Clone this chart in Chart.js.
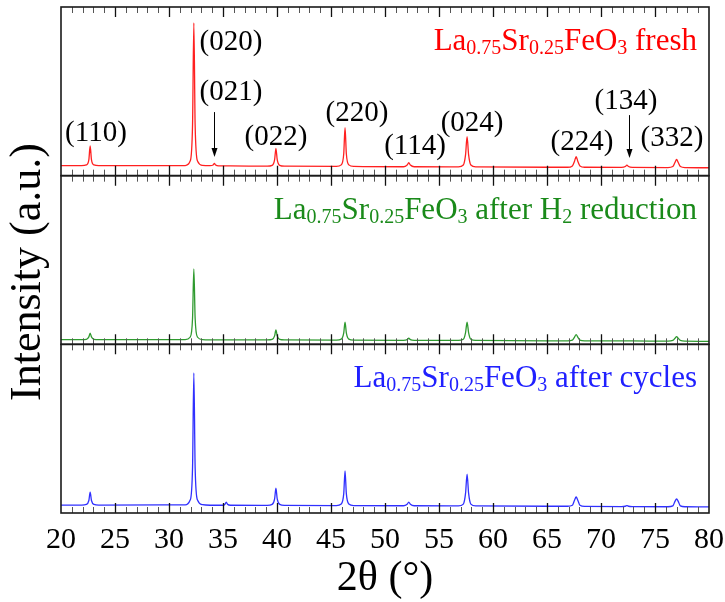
<!DOCTYPE html>
<html><head><meta charset="utf-8">
<script src="https://cdn.jsdelivr.net/npm/chart.js@4.4.1/dist/chart.umd.min.js"></script>
<style>html,body{margin:0;padding:0;background:#fff}#wrap{width:725px;height:602px;position:relative}</style>
</head><body><div id="wrap"><canvas id="c"></canvas></div>
<script>
// ---- data (2θ in degrees, intensities in arbitrary units per panel, 0-100) ----
const twoTheta = [
  20,
  21.9, 22.35, 22.58, 22.7, 22.82, 23.05, 23.5,
  31.5, 31.95, 32.18, 32.3, 32.42, 32.65, 33.1,
  33.8, 34.08, 34.2, 34.32, 34.6,
  35.0, 35.18, 35.3, 35.42, 35.7,
  39.1, 39.55, 39.78, 39.9, 40.02, 40.25, 40.7,
  45.5, 45.95, 46.18, 46.3, 46.42, 46.65, 47.1,
  51.7, 52.05, 52.2, 52.35, 52.7,
  56.8, 57.25, 57.46, 57.6, 57.74, 57.95, 58.4,
  66.9, 67.35, 67.55, 67.7, 67.85, 68.05, 68.5,
  71.9, 72.25, 72.4, 72.55, 72.9,
  76.2, 76.65, 76.85, 77.0, 77.15, 77.35, 77.8,
  80
];
const freshI = [
  6.0,
  6.0, 6.4, 9.5, 17.6, 9.5, 6.4, 6.0,
  6.0, 8.5, 30.0, 90.5, 30.0, 8.5, 6.1,
  5.9, 6.3, 7.3, 6.3, 5.8,
  5.8, 5.8, 5.8, 5.8, 5.8,
  5.6, 6.1, 9.5, 16.2, 9.5, 6.1, 5.6,
  5.5, 6.4, 13.0, 28.5, 13.0, 6.4, 5.5,
  5.3, 6.3, 7.7, 6.3, 5.3,
  5.2, 6.3, 12.5, 23.1, 12.5, 6.3, 5.2,
  5.0, 5.8, 8.6, 11.3, 8.6, 5.8, 5.0,
  4.9, 5.4, 6.3, 5.4, 4.9,
  4.8, 5.4, 7.8, 9.7, 7.8, 5.4, 4.8,
  4.7
];
const reducedI = [
  2.8,
  2.8, 3.0, 4.4, 6.7, 4.4, 3.0, 2.8,
  2.8, 4.2, 15.5, 44.7, 15.5, 4.2, 2.8,
  2.7, 2.7, 2.7, 2.7, 2.7,
  2.7, 2.7, 2.7, 2.7, 2.7,
  2.6, 2.9, 5.0, 8.5, 5.0, 2.9, 2.6,
  2.5, 3.1, 6.8, 13.2, 6.8, 3.1, 2.5,
  2.4, 2.8, 3.6, 2.8, 2.4,
  2.3, 3.0, 7.0, 13.2, 7.0, 3.0, 2.3,
  2.1, 2.5, 4.3, 5.8, 4.3, 2.5, 2.1,
  2.0, 2.0, 2.1, 2.0, 2.0,
  1.9, 2.3, 3.6, 4.6, 3.6, 2.3, 1.9,
  1.8
];
const cycledI = [
  4.7,
  4.7, 5.1, 7.4, 12.4, 7.4, 5.1, 4.7,
  4.8, 7.5, 27.0, 83.0, 27.0, 7.5, 4.9,
  4.6, 4.6, 4.6, 4.6, 4.6,
  4.6, 5.2, 6.5, 5.2, 4.6,
  4.5, 5.1, 8.4, 14.8, 8.4, 5.1, 4.5,
  4.4, 5.3, 11.5, 24.9, 11.5, 5.3, 4.4,
  4.3, 5.2, 6.5, 5.2, 4.3,
  4.2, 5.3, 11.8, 23.1, 11.8, 5.3, 4.2,
  4.0, 4.6, 7.6, 9.5, 7.6, 4.6, 3.9,
  3.8, 4.0, 4.4, 4.0, 3.8,
  3.7, 4.2, 6.9, 8.3, 6.9, 4.2, 3.7,
  3.6
];
// peak labels (top panel)
const peakHkl    = ['(110)','(020)','(021)','(022)','(220)','(114)','(024)','(224)','(134)','(332)'];
const labelTheta = [23.24, 35.74, 35.74, 39.9, 47.4, 52.78, 58.06, 68.24, 72.31, 76.57];
const labelLevel = [25.3, 79.3, 49.6, 22.9, 37.2, 17.6, 31.2, 20.0, 44.3, 22.3];
const arrowTheta = [34.17, 72.6];
const arrowFrom  = [37.7, 35.9];
const arrowTo    = [11.1, 10.5];
// sample names: [text, isSubscript]
const sampleNames = [
  [['La',0],['0.75',1],['Sr',0],['0.25',1],['FeO',0],['3',1],[' fresh',0]],
  [['La',0],['0.75',1],['Sr',0],['0.25',1],['FeO',0],['3',1],[' after H',0],['2',1],[' reduction',0]],
  [['La',0],['0.75',1],['Sr',0],['0.25',1],['FeO',0],['3',1],[' after cycles',0]]
];
const yTitle = 'Intensity (a.u.)';
const xTitle = '2θ (°)';
const xTicksMajor = 5, xTicksMinor = 1;

// ---- styling ----
const SERIF = "'Liberation Serif','Times New Roman',serif";
const lineColors = ['#ff2020', '#2f9a2f', '#3030ff'];
const textColors = ['#ff0000', '#1a8a1a', '#2020ff'];
const axisIds = ['yTop', 'yMid', 'yBot'];

function pts(ys){ return twoTheta.map((x,i)=>({x:x, y:ys[i]})); }

const panelPlugin = {
  id: 'panels',
  afterDatasetsDraw(chart){
    const ctx = chart.ctx;
    const xs = chart.scales.x;
    ctx.save();
    // frames and inward ticks
    axisIds.forEach(id => {
      const s = chart.scales[id];
      for (let v = xs.min + xTicksMinor; v < xs.max; v += xTicksMinor) {
        const px = Math.round(xs.getPixelForValue(v)) + 0.5;
        const major = Math.abs(v % xTicksMajor) < 1e-6;
        const len = major ? 10 : 6;
        ctx.strokeStyle = major ? '#111' : '#555';
        ctx.lineWidth = major ? 1.3 : 1;
        ctx.beginPath();
        ctx.moveTo(px, s.top); ctx.lineTo(px, s.top + len);
        ctx.moveTo(px, s.bottom); ctx.lineTo(px, s.bottom - len);
        ctx.stroke();
      }
      ctx.strokeStyle = '#1a1a1a';
      ctx.lineWidth = 1.6;
      ctx.strokeRect(xs.left, s.top, xs.right - xs.left, s.bottom - s.top);
    });
    // peak labels
    const yt = chart.scales.yTop;
    ctx.fillStyle = '#000';
    ctx.font = '29px ' + SERIF;
    ctx.textAlign = 'center';
    ctx.textBaseline = 'middle';
    peakHkl.forEach((t,i) => {
      ctx.fillText(t, xs.getPixelForValue(labelTheta[i]), yt.getPixelForValue(labelLevel[i]));
    });
    // arrows
    ctx.strokeStyle = '#000';
    ctx.lineWidth = 1;
    arrowTheta.forEach((a,i) => {
      const px = Math.round(xs.getPixelForValue(a)) + 0.5;
      const y1 = yt.getPixelForValue(arrowFrom[i]);
      const y2 = yt.getPixelForValue(arrowTo[i]);
      ctx.beginPath(); ctx.moveTo(px, y1); ctx.lineTo(px, y2 - 6); ctx.stroke();
      ctx.beginPath(); ctx.moveTo(px, y2); ctx.lineTo(px - 3, y2 - 9); ctx.lineTo(px + 3, y2 - 9); ctx.closePath(); ctx.fill();
    });
    // sample names with subscripts
    ctx.textAlign = 'left';
    ctx.textBaseline = 'alphabetic';
    sampleNames.forEach((runs, k) => {
      const s = chart.scales[axisIds[k]];
      const fontMain = '31px ' + SERIF, fontSub = '20px ' + SERIF;
      let total = 0;
      runs.forEach(r => { ctx.font = r[1] ? fontSub : fontMain; total += ctx.measureText(r[0]).width; });
      let x = xs.right - 12 - total;
      const base = s.top + 43;
      ctx.fillStyle = textColors[k];
      runs.forEach(r => {
        ctx.font = r[1] ? fontSub : fontMain;
        ctx.fillText(r[0], x, r[1] ? base + 4 : base);
        x += ctx.measureText(r[0]).width;
      });
    });
    // y-axis title spanning all panels
    ctx.fillStyle = '#000';
    ctx.font = '44px ' + SERIF;
    ctx.textAlign = 'center';
    ctx.textBaseline = 'middle';
    ctx.translate(28, (chart.chartArea.top + chart.chartArea.bottom) / 2 + 12);
    ctx.rotate(-Math.PI / 2);
    ctx.fillText(yTitle, 0, 0);
    ctx.restore();
  }
};

const yBase = {
  type: 'linear', position: 'left', stack: 'xrd', stackWeight: 1,
  min: 0, max: 100, display: true,
  ticks: { display: false },
  grid: { display: false, drawTicks: false },
  border: { display: false }
};

new Chart(document.getElementById('c'), {
  type: 'line',
  data: {
    datasets: [
      { label: 'fresh', data: pts(freshI), yAxisID: 'yTop', borderColor: lineColors[0] },
      { label: 'after H2 reduction', data: pts(reducedI), yAxisID: 'yMid', borderColor: lineColors[1] },
      { label: 'after cycles', data: pts(cycledI), yAxisID: 'yBot', borderColor: lineColors[2] }
    ].map(d => Object.assign(d, { borderWidth: 1.3, pointRadius: 0, cubicInterpolationMode: 'monotone', fill: false }))
  },
  options: {
    responsive: true, maintainAspectRatio: false, animation: false,
    layout: { padding: { top: 7, right: 16, left: 61, bottom: 0 } },
    plugins: { legend: { display: false }, tooltip: { enabled: false } },
    scales: {
      x: {
        type: 'linear', position: 'bottom', min: 20, max: 80,
        ticks: { stepSize: xTicksMajor, font: { family: SERIF, size: 30, lineHeight: 1.0 }, color: '#000', padding: 12, maxRotation: 0, autoSkip: false },
        grid: { display: false, drawTicks: false },
        border: { display: false },
        title: { display: true, text: xTitle, font: { family: SERIF, size: 42, lineHeight: 1.0 }, color: '#000', padding: { top: 0, bottom: 2 } },
        afterFit(scale) { scale.height = 89; scale.paddingLeft = 0; scale.paddingRight = 0; }
      },
      yTop: Object.assign({}, yBase, { weight: 3 }),
      yMid: Object.assign({}, yBase, { weight: 2 }),
      yBot: Object.assign({}, yBase, { weight: 1 })
    }
  },
  plugins: [panelPlugin]
});
</script>
</body></html>
